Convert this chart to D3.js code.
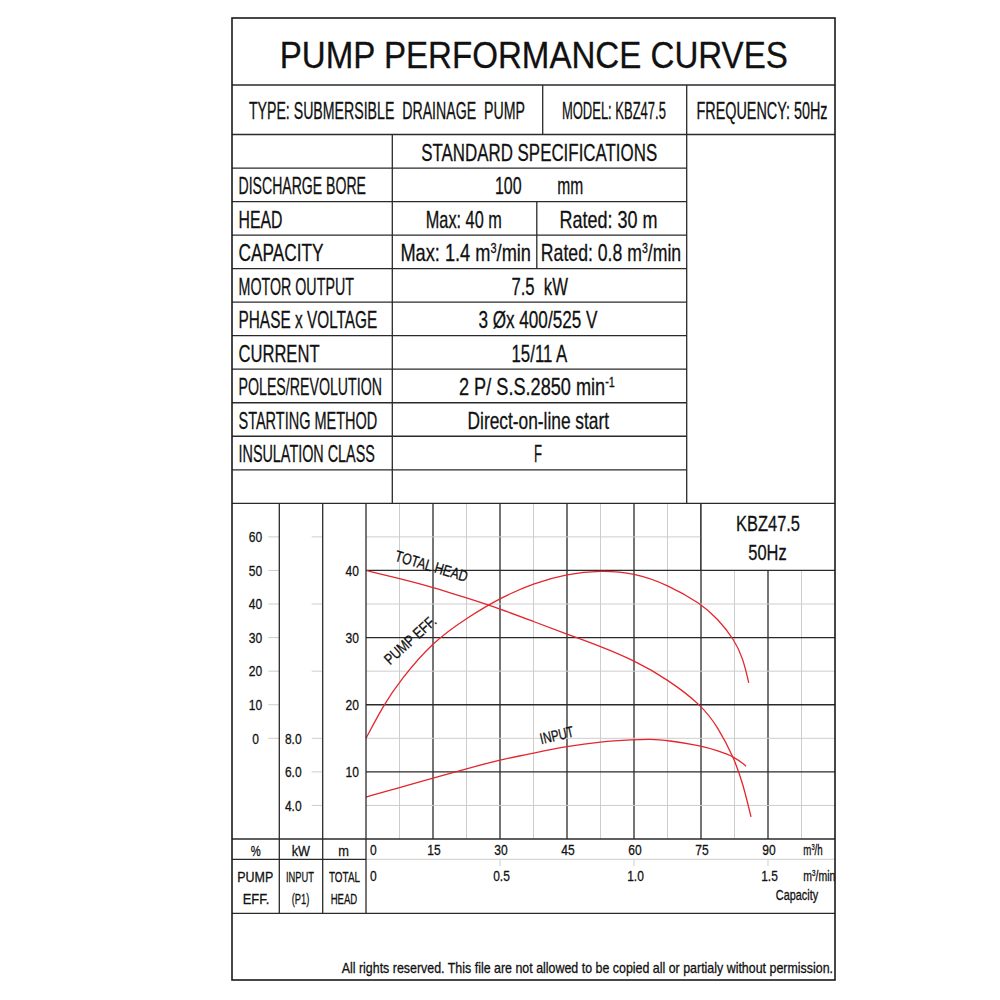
<!DOCTYPE html>
<html>
<head>
<meta charset="utf-8">
<script src="https://cdn.jsdelivr.net/npm/d3@7"></script>
<style>
  body { margin: 0; background: #fff; }
  text { font-family: "Liberation Sans Narrow", "Liberation Sans", Arial, sans-serif; fill: #111; stroke: #111; stroke-width: 0.3; white-space: pre; }
</style>
</head>
<body>
<div id="chart"></div>
<script>
// ---- data ----
const headFlow   = [0, 7.5, 15, 22.5, 30, 37.5, 45, 52.5, 60, 67.5, 75, 78.75, 82.5, 84.4, 86.2];
const headValues = [40, 38.8, 37.5, 35.9, 34.3, 32.4, 30.5, 28.7, 26.6, 23.8, 20, 16.75, 11.9, 8.2, 3.3];

const effFlow   = [0, 3.9, 7.5, 15, 22.5, 30, 37.5, 45, 52.5, 60, 67.5, 75, 78.75, 82.5, 84.4, 85.7];
const effValues = [0, 9.8, 17.0, 28.8, 35.8, 41.8, 46.2, 49, 50, 49.3, 45.8, 40.1, 35.6, 29.3, 23.8, 16.5];

const inputFlow   = [0, 7.5, 15, 22.5, 30, 37.5, 45, 52.5, 60, 63.7, 67.5, 75, 78.75, 82.5, 85.1];
const inputValues = [4.5, 5.06, 5.62, 6.18, 6.72, 7.12, 7.52, 7.8, 7.92, 7.96, 7.88, 7.56, 7.26, 6.9, 6.34];

const effTicks   = [0, 10, 20, 30, 40, 50, 60];
const kwTicks    = [8, 6, 4];
const headTicks  = [10, 20, 30, 40];
const flowTicks  = [0, 15, 30, 45, 60, 75, 90];
const flowMinTicks = [0, 0.5, 1.0, 1.5];

const specLabels = ["", "DISCHARGE BORE", "HEAD", "CAPACITY", "MOTOR OUTPUT", "PHASE x VOLTAGE",
  "CURRENT", "POLES/REVOLUTION", "STARTING METHOD", "INSULATION CLASS", ""];
const specLabelW = [0, 127.5, 44, 85, 115.4, 138.8, 81, 143.5, 138.8, 136.4, 0];

// ---- layout ----
const width = 1000, height = 1000;
const L = 232, R = 835, T = 18, B = 980;
const rowTop = 134.5, rowH = 33.53;
const chartTop = rowTop + rowH * 11;
const plotL = 366, plotB = 839;
const colA = 279.3, colB = 322.7;
const red = "#e3262d", dark = "#2a2a2a", light = "#cdcdcd";

const svg = d3.select("#chart").append("svg")
  .attr("width", width).attr("height", height);

function txt(x, y, s, size, anchor, w) {
  const t = svg.append("text")
    .attr("x", x).attr("y", y)
    .attr("font-size", size)
    .attr("text-anchor", anchor || "middle");
  [].concat(s).forEach(part => {
    if (Array.isArray(part)) {
      t.append("tspan").attr("font-size", size * 0.6).attr("baseline-shift", "super").text(part[0]);
    } else {
      t.append("tspan").text(part);
    }
  });
  if (w) t.attr("textLength", w).attr("lengthAdjust", "spacingAndGlyphs");
  return t;
}
// narrow digits width
const numW = (s, size) => (String(s).replace(/[^0-9]/g, "").length * 6.7 + String(s).replace(/[0-9]/g, "").length * 3.3) * size / 15;

function line(x1, y1, x2, y2, color, w) {
  svg.append("line").attr("x1", x1).attr("y1", y1).attr("x2", x2).attr("y2", y2)
    .attr("stroke", color || dark).attr("stroke-width", w || 1.3);
}

// ---- scales ----
const x = d3.scaleLinear().domain([0, 105]).range([plotL, R]);
const xMin = d3.scaleLinear().domain([0, 1.75]).range([plotL, R]);
const yHead = d3.scaleLinear().domain([0, 50]).range([plotB, chartTop]);
const yEff = d3.scaleLinear().domain([-30, 70]).range([plotB, chartTop]);
const yKw = d3.scaleLinear().domain([2, 22]).range([plotB, chartTop]);

// ---- grid ----
d3.range(7.5, 105, 7.5).forEach(v => {
  const major = v % 15 === 0;
  line(x(v), chartTop, x(v), plotB, major ? dark : light, major ? 1.3 : 1);
});
d3.range(5, 50, 5).forEach(v => {
  const major = v % 10 === 0;
  line(plotL, yHead(v), R, yHead(v), major ? dark : light, major ? 1.3 : 1);
});
// short ticks in the scale columns
effTicks.forEach(v => line(colA - 11, yEff(v), colA, yEff(v), light, 1));
[5, 15, 25, 35, 45, 10].forEach(v => line(colB - 11, yHead(v), colB, yHead(v), light, 1));

// model box
svg.append("rect").attr("x", x(75)).attr("y", chartTop)
  .attr("width", R - x(75)).attr("height", yHead(40) - chartTop).attr("fill", "#fff");
line(x(75), chartTop, x(75), yHead(40));
line(x(75), yHead(40), R, yHead(40));
txt(768, 530.7, "KBZ47.5", 22, "middle", 64);
txt(767.5, 560, "50Hz", 22, "middle", 38.4);

// ---- curves ----
const curve = d3.curveBasis;
function drawCurve(xs, ys, yScale) {
  svg.append("path")
    .datum(xs.map((f, i) => [f, ys[i]]))
    .attr("fill", "none").attr("stroke", red).attr("stroke-width", 1.3)
    .attr("d", d3.line().x(d => x(d[0])).y(d => yScale(d[1])).curve(curve));
}
drawCurve(headFlow, headValues, yHead);
drawCurve(effFlow, effValues, yEff);
drawCurve(inputFlow, inputValues, yKw);

function curveLabel(cx, cy, angle, s, w) {
  svg.append("text")
    .attr("transform", `translate(${cx},${cy}) rotate(${angle})`)
    .attr("y", 5.5).attr("font-size", 15.5).attr("text-anchor", "middle")
    .attr("textLength", w).attr("lengthAdjust", "spacingAndGlyphs")
    .text(s);
}
curveLabel(431.5, 566, 16.5, "TOTAL HEAD", 75);
curveLabel(410, 640, -42, "PUMP EFF.", 64);
curveLabel(556.7, 735, -13, "INPUT", 34);

// ---- scale labels ----
effTicks.forEach(v => txt(255.5, yEff(v) + 5.3, String(v), 15, "middle", numW(v, 15)));
kwTicks.forEach(v => txt(293.3, yKw(v) + 5.3, v.toFixed(1), 15, "middle", numW(v.toFixed(1), 15)));
headTicks.forEach(v => txt(359, yHead(v) + 5.3, String(v), 15, "end", numW(v, 15)));

flowTicks.forEach(v => {
  if (v === 0) txt(x(0) + 4, 855, "0", 15, "start", numW(0, 15));
  else txt(x(v) + 1, 855, String(v), 15, "middle", numW(v, 15));
});
flowMinTicks.forEach(v => {
  if (v === 0) txt(xMin(0) + 4, 880.5, "0", 15, "start", numW(0, 15));
  else {
    line(xMin(v), 859.3, xMin(v), 866, light, 1);
    txt(xMin(v) + 1.5, 880.5, v.toFixed(1), 15, "middle", numW(v.toFixed(1), 15));
  }
});
txt(803.3, 855, ["m", ["3"], "/h"], 14, "start", 19.4);
txt(803.3, 880.5, ["m", ["3"], "/min"], 14, "start", 32);
txt(797, 900, "Capacity", 14, "middle", 42.3);

txt(255.7, 856, "%", 15, "middle", 10);
txt(300.8, 856, "kW", 15, "middle", 18.3);
txt(343.7, 856, "m", 15, "middle", 10.7);
txt(255.3, 881.7, "PUMP", 15, "middle", 36);
txt(256, 904.3, "EFF.", 15, "middle", 26.6);
txt(300, 881.7, "INPUT", 15, "middle", 28);
txt(300.5, 904.3, "(P1)", 15, "middle", 17.6);
txt(344.5, 881.7, "TOTAL", 15, "middle", 31);
txt(344, 904.3, "HEAD", 15, "middle", 26.6);

// ---- table lines ----
line(366, 859.3, R, 859.3, light, 1);
line(L, 859.3, 366, 859.3);
line(L, plotB, R, plotB);
line(L, 913.3, R, 913.3);
line(colA, chartTop, colA, 913.3);
line(colB, chartTop, colB, 913.3);
line(plotL, chartTop, plotL, 913.3);

line(L, 85, R, 85);
line(L, rowTop, R, rowTop);
line(542.7, 85, 542.7, rowTop);
line(686.7, 85, 686.7, chartTop);
line(392.3, rowTop, 392.3, chartTop);
for (let i = 1; i <= 11; i++) {
  const y = rowTop + rowH * i;
  line(L, y, i === 11 ? R : 686.7, y);
}
line(536.8, rowTop + rowH * 2, 536.8, rowTop + rowH * 4);

svg.append("rect").attr("x", L).attr("y", T).attr("width", R - L).attr("height", B - T)
  .attr("fill", "none").attr("stroke", "#1a1a1a").attr("stroke-width", 1.6);

// ---- header texts ----
txt(533.8, 68, "PUMP PERFORMANCE CURVES", 37, "middle", 508);
txt(386.9, 119, "TYPE: SUBMERSIBLE  DRAINAGE  PUMP", 23, "middle", 276);
txt(613.9, 119, "MODEL: KBZ47.5", 23, "middle", 104);
txt(762, 119, "FREQUENCY: 50Hz", 23, "middle", 131);

const base = i => rowTop + rowH * i + 26;
txt(539.2, base(0), "STANDARD SPECIFICATIONS", 23, "middle", 236);
specLabels.forEach((s, i) => { if (s) txt(238.5, base(i), s, 24, "start", specLabelW[i]); });

txt(508.3, base(1), "100", 24, "middle", 26.7);
txt(570.3, base(1), "mm", 24, "middle", 26);
txt(463.8, base(2), "Max: 40 m", 24, "middle", 76);
txt(608.6, base(2), "Rated: 30 m", 24, "middle", 98);
txt(465.7, base(3), ["Max: 1.4 m", ["3"], "/min"], 24, "middle", 130.6);
txt(611, base(3), ["Rated: 0.8 m", ["3"], "/min"], 24, "middle", 140.3);
txt(539.7, base(4), "7.5  kW", 24, "middle", 56.5);
txt(537.9, base(5), "3 Øx 400/525 V", 24, "middle", 119);
txt(539.4, base(6), "15/11 A", 24, "middle", 55.8);
txt(536.9, base(7), ["2 P/ S.S.2850 min", ["-1"]], 24, "middle", 155.8);
txt(538.3, base(8), "Direct-on-line start", 24, "middle", 141.5);
txt(538, base(9), "F", 24, "middle", 8);

txt(341.7, 973, "All rights reserved. This file are not allowed to be copied all or partialy without permission.", 15, "start", 491.3);
</script>
</body>
</html>
